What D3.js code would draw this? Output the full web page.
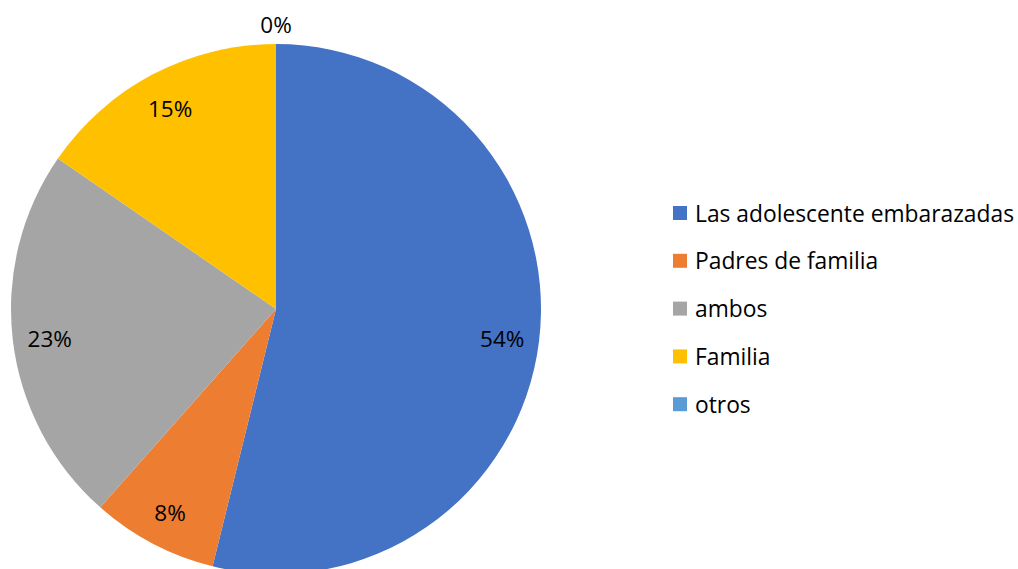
<!DOCTYPE html>
<html>
<head>
<meta charset="utf-8">
<script src="https://cdn.jsdelivr.net/npm/d3@7"></script>
<style>
  body { margin: 0; background: #fff; }
  svg text { font-family: "Open Sans", "Noto Sans", sans-serif; fill: #000; }
</style>
</head>
<body>
<div id="chart"></div>
<script>
const categorias = ["Las adolescente embarazadas", "Padres de familia", "ambos", "Familia", "otros"];
const valores = [7, 1, 3, 2, 0];
const colores = ["#4472C4", "#ED7D31", "#A5A5A5", "#FFC000", "#5B9BD5"];

const W = 1018, H = 569;
const cx = 276, cy = 309, r = 265;

const svg = d3.select("#chart").append("svg")
  .attr("width", W).attr("height", H);

const total = d3.sum(valores);
const datos = categorias.map((c, i) => ({ cat: c, val: valores[i], color: colores[i] }));

const pie = d3.pie().value(d => d.val).sort(null);
const arcs = pie(datos);

const arc = d3.arc().innerRadius(0).outerRadius(r);
const arcLabel = d3.arc().innerRadius(r * 0.86).outerRadius(r * 0.86);
const arcFuera = d3.arc().innerRadius(r + 21).outerRadius(r + 21);

const g = svg.append("g").attr("transform", `translate(${cx},${cy})`);

g.selectAll("path")
  .data(arcs)
  .enter()
  .append("path")
  .attr("d", arc)
  .attr("fill", d => d.data.color);

// etiquetas de porcentaje: dentro de la porción, o fuera si es 0
g.selectAll("text.label")
  .data(arcs)
  .enter()
  .append("text")
  .attr("class", "label")
  .attr("transform", d => {
    const p = d.data.val > 0 ? arcLabel.centroid(d) : arcFuera.centroid(d);
    return `translate(${p[0]},${p[1]})`;
  })
  .attr("text-anchor", "middle")
  .attr("dy", "0.45em")
  .style("font-size", "22.5px")
  .text(d => Math.round(d.data.val / total * 100) + "%");

// leyenda
const leyenda = svg.append("g").attr("transform", "translate(673,213)");
const fila = leyenda.selectAll("g")
  .data(datos)
  .enter()
  .append("g")
  .attr("transform", (d, i) => `translate(0,${i * 47.8})`);

fila.append("rect")
  .attr("x", 0).attr("y", -7)
  .attr("width", 14).attr("height", 14)
  .attr("fill", d => d.color);

fila.append("text")
  .attr("x", 22)
  .attr("dy", "0.38em")
  .style("font-size", "22.8px")
  .text(d => d.cat);
</script>
</body>
</html>
